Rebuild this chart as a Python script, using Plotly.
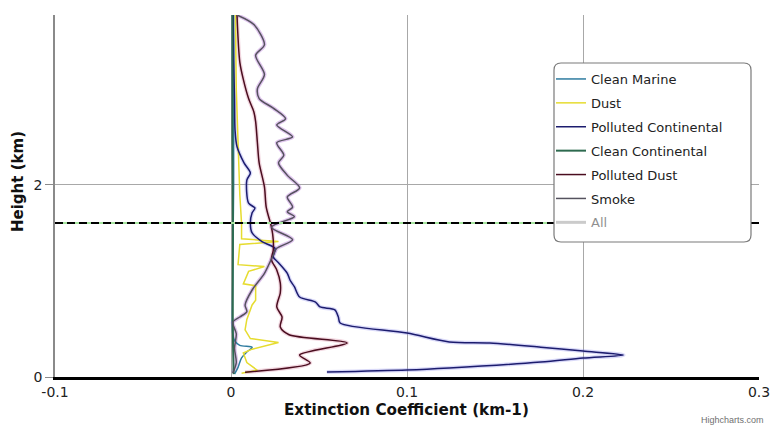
import plotly.graph_objects as go

# ---------------- data (height in km, extinction in km-1) ----------------
series_names = ["Clean Marine", "Dust", "Polluted Continental",
                "Clean Continental", "Polluted Dust", "Smoke", "All"]

cm_h = [0.03, 0.10, 0.20, 0.26, 0.31, 0.33, 0.38, 0.45, 0.60, 1.0, 1.5, 2.0, 2.5, 3.0, 3.77]
cm_v = [0.002, 0.004, 0.006, 0.009, 0.012, 0.005, 0.002, 0.001, 0.0008, 0.001, 0.0012, 0.0015, 0.0015, 0.0015, 0.0015]

dust_h = [0.04, 0.07, 0.15, 0.25, 0.29, 0.36, 0.40, 0.49, 0.60, 0.75, 0.80, 0.95, 0.97, 1.10,
          1.15, 1.17, 1.38, 1.41, 1.44, 1.60, 1.90, 2.50, 3.00, 3.77]
dust_v = [0.006, 0.015, 0.009, 0.007, 0.012, 0.027, 0.011, 0.008, 0.009, 0.012, 0.014, 0.014,
          0.007, 0.010, 0.019, 0.004, 0.005, 0.027, 0.006, 0.006, 0.005, 0.004, 0.003, 0.0025]

pc_h = [0.052, 0.073, 0.094, 0.156, 0.198, 0.229, 0.27, 0.31, 0.354, 0.365, 0.458, 0.5625,
        0.625, 0.70, 0.73, 0.78, 0.833, 0.94, 1.01, 1.08, 1.19, 1.25, 1.34, 1.41, 1.50, 1.60,
        1.71, 1.76, 1.81, 2.05, 2.125, 2.23, 2.40, 2.57, 2.90, 3.30, 3.77]
pc_v = [0.0545, 0.100, 0.124, 0.176, 0.200, 0.223, 0.200, 0.176, 0.147, 0.124, 0.100, 0.062,
        0.061, 0.059, 0.0506, 0.048, 0.039, 0.036, 0.0335, 0.032, 0.027, 0.024, 0.025, 0.0176,
        0.012, 0.011, 0.012, 0.0136, 0.010, 0.009, 0.011, 0.0074, 0.0034, 0.0023, 0.002, 0.0015, 0.0012]

cc_h = [0.03, 0.30, 0.60, 1.0, 1.5, 2.0, 2.5, 3.0, 3.77]
cc_v = [0.0015, 0.0012, 0.001, 0.001, 0.0011, 0.001, 0.0008, 0.0008, 0.0008]

pd_h = [0.05, 0.146, 0.229, 0.354, 0.44, 0.52, 0.625, 0.73, 0.875, 0.98, 1.115, 1.22, 1.32,
        1.43, 1.56, 1.77, 1.98, 2.23, 2.44, 2.66, 2.76, 2.90, 3.10, 3.28, 3.77]
pd_v = [0.008, 0.045, 0.039, 0.066, 0.033, 0.028, 0.029, 0.026, 0.028, 0.028, 0.026, 0.023,
        0.024, 0.024, 0.023, 0.020, 0.019, 0.016, 0.015, 0.014, 0.013, 0.010, 0.007, 0.005, 0.0034]

sm_h = [0.04, 0.15, 0.30, 0.45, 0.57, 0.625, 0.68, 0.75, 0.906, 1.08, 1.27, 1.34, 1.43, 1.56,
        1.67, 1.72, 1.77, 1.875, 1.97, 2.10, 2.23, 2.31, 2.44, 2.50, 2.625, 2.69, 2.80, 2.90,
        3.00, 3.15, 3.35, 3.46, 3.67, 3.77]
sm_v = [0.001, 0.003, 0.002, 0.003, 0.001, 0.005, 0.009, 0.008, 0.012, 0.019, 0.024, 0.026,
        0.035, 0.023, 0.036, 0.032, 0.035, 0.032, 0.039, 0.032, 0.027, 0.030, 0.026, 0.035,
        0.026, 0.031, 0.024, 0.016, 0.015, 0.019, 0.014, 0.019, 0.013, 0.0034]

# "All" is hidden in the reference (legend entry greyed out); rough profile only
all_h = [0.05, 0.25, 0.5, 1.0, 1.5, 2.0, 3.0, 3.77]
all_v = [0.02, 0.06, 0.03, 0.02, 0.015, 0.012, 0.008, 0.003]

x_tickvals = [-0.1, 0, 0.1, 0.2, 0.3]
x_ticktext = ["-0.1", "0", "0.1", "0.2", "0.3"]
y_tickvals = [0, 2]
y_ticktext = ["0", "2"]
boundary_height = 1.604

colors = {
    "Clean Marine": "#2f7ca0",
    "Dust": "#e6dc30",
    "Polluted Continental": "#1c1c6e",
    "Clean Continental": "#2d6a4f",
    "Polluted Dust": "#4a0d1f",
    "Smoke": "#55525e",
    "All": "#999999",
}

FONT = "DejaVu Sans, Verdana, sans-serif"

fig = go.Figure()

def halo(x, y, color, group, width=4, shape="spline"):
    fig.add_trace(go.Scatter(x=x, y=y, mode="lines", showlegend=False, hoverinfo="skip",
                             legendgroup=group,
                             line=dict(color=color, width=width, shape=shape, smoothing=0.8)))

def main(x, y, name, shape="spline", width=1.5):
    fig.add_trace(go.Scatter(x=x, y=y, mode="lines", name=name, legendgroup=name,
                             line=dict(color=colors[name], width=width, shape=shape, smoothing=0.8)))

halo(pc_v, pc_h, "rgba(120,120,230,0.28)", "Polluted Continental")
halo(pd_v, pd_h, "rgba(210,120,150,0.30)", "Polluted Dust")
halo(sm_v, sm_h, "rgba(175,110,210,0.40)", "Smoke")

main(cm_v, cm_h, "Clean Marine")
main(dust_v, dust_h, "Dust", shape="linear")
main(pc_v, pc_h, "Polluted Continental")
main(cc_v, cc_h, "Clean Continental", width=2)
main(pd_v, pd_h, "Polluted Dust")
main(sm_v, sm_h, "Smoke")
fig.add_trace(go.Scatter(x=all_v, y=all_h, mode="lines", name="All", legendgroup="All",
                         visible="legendonly", line=dict(color=colors["All"], width=3)))

# boundary-layer dashed line
fig.add_shape(type="line", xref="x", yref="y", x0=-0.1, x1=0.3, y0=boundary_height, y1=boundary_height,
              line=dict(color="#a8e6a0", width=2), layer="above")
fig.add_shape(type="line", xref="x", yref="y", x0=-0.1, x1=0.3, y0=boundary_height, y1=boundary_height,
              line=dict(color="#000000", width=2, dash="8px,4px"), layer="above")

# rounded legend box (plot area: 55..759 px wide, 15..377 px tall)
pw, ph = 704.0, 362.0
L, R = (554 - 55) / pw, (751 - 55) / pw
T, B = (377 - 63) / ph, (377 - 242) / ph
rx, ry = 7 / pw, 7 / ph
path = (f"M{L+rx},{B} L{R-rx},{B} Q{R},{B} {R},{B+ry} L{R},{T-ry} Q{R},{T} {R-rx},{T} "
        f"L{L+rx},{T} Q{L},{T} {L},{T-ry} L{L},{B+ry} Q{L},{B} {L+rx},{B} Z")
fig.add_shape(type="path", xref="paper", yref="paper", path=path,
              fillcolor="white", line=dict(color="#7a7a7a", width=1.2), layer="above")

fig.update_layout(
    width=771, height=425,
    margin=dict(l=55, r=12, t=15, b=48, autoexpand=False),
    paper_bgcolor="white", plot_bgcolor="white",
    font=dict(family=FONT, size=13, color="#222222"),
    showlegend=True,
    legend=dict(x=(551 - 55) / pw, y=(377 - 64) / ph, xanchor="left", yanchor="top",
                bgcolor="rgba(0,0,0,0)", borderwidth=0,
                font=dict(family=FONT, size=13, color="#222222"),
                traceorder="grouped", tracegroupgap=4),
    xaxis=dict(range=[-0.1, 0.3], tickvals=x_tickvals, ticktext=x_ticktext, automargin=False,
               showgrid=True, gridcolor="#a8a8a8", gridwidth=1, zeroline=False,
               showline=True, linecolor="#000000", linewidth=3, ticks="",
               tickfont=dict(family=FONT, size=14, color="#222222")),
    yaxis=dict(range=[0, 3.77], tickvals=y_tickvals, ticktext=y_ticktext, automargin=False,
               showgrid=True, gridcolor="#a8a8a8", gridwidth=1, zeroline=False,
               showline=True, linecolor="#8a8a8a", linewidth=1.5,
               ticks="outside", ticklen=8, tickcolor="#8a8a8a",
               tickfont=dict(family=FONT, size=14, color="#222222")),
    annotations=[
        dict(text="<b>Extinction Coefficient (km-1)</b>", xref="paper", yref="paper",
             x=(406 - 55) / pw, y=(377 - 410) / ph, xanchor="center", yanchor="middle",
             showarrow=False, font=dict(family=FONT, size=15.2, color="#111111")),
        dict(text="<b>Height (km)</b>", xref="paper", yref="paper", textangle=-90,
             x=(18 - 55) / pw, y=(377 - 182) / ph, xanchor="center", yanchor="middle",
             showarrow=False, font=dict(family=FONT, size=15, color="#111111")),
        dict(text="Highcharts.com", xref="paper", yref="paper",
             x=(766 - 55) / pw, y=(377 - 420) / ph, xanchor="right", yanchor="middle",
             showarrow=False, font=dict(family="Liberation Sans, Arial, sans-serif", size=9, color="#707070")),
    ],
)

fig.write_html("out.html")
